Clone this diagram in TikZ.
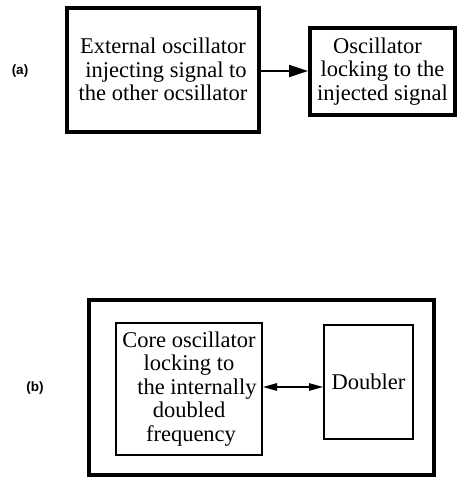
\documentclass[tikz,border=0pt]{standalone}
\usepackage{fontspec}
\setmainfont{Liberation Serif}
\newfontfamily\labfont{Liberation Sans}
\usetikzlibrary{arrows.meta}
\begin{document}
\begin{tikzpicture}[x=1pt,y=-1pt,
  blk/.style={draw,rectangle,inner sep=0pt,align=center,font=\fontsize{22.5}{23.5}\selectfont},
  lab/.style={font=\labfont\bfseries\fontsize{13.5}{15}\selectfont},
  arr/.style={line width=2pt,-{Triangle[length=19pt,width=12pt]}},
  darr/.style={line width=1.3pt,{Triangle[length=14pt,width=7.5pt]}-{Triangle[length=14pt,width=7.5pt]}}]
\useasboundingbox (0,0) rectangle (457,477);
\node[lab] (la) at (20,71) {(a)};
\node[blk,line width=4pt,minimum width=192pt,minimum height=124pt] (ext) at (163,69.5)
  {External oscillator\\ \hspace*{6pt}injecting signal to\\the other ocsillator};
\node[blk,line width=4pt,minimum width=145pt,minimum height=87pt] (osc) at (382.5,71.5)
  {Oscillator\hspace*{10pt}\\locking to the\\injected signal};
\draw[arr] (ext.east) ++(0,1.5) coordinate (s1) -- (s1 -| osc.west);
\node[lab] (lb) at (35,388) {(b)};
\node[draw,line width=4.5pt,minimum width=345pt,minimum height=175pt,inner sep=0pt] (outer) at (261.5,387.5) {};
\node[blk,line width=2pt,minimum width=146pt,minimum height=132pt] (core) at (189,389)
  {Core oscillator\\locking to\hspace*{4pt}\\ \hspace*{16pt}the internally\\doubled\hspace*{12pt}\\ \hspace*{4pt}frequency};
\node[blk,line width=2pt,minimum width=89pt,minimum height=114pt] (dbl) at (368.5,382)
  {Doubler};
\draw[darr] (core.east) ++(0,-2) coordinate (s2) -- (s2 -| dbl.west);
\end{tikzpicture}
\end{document}
